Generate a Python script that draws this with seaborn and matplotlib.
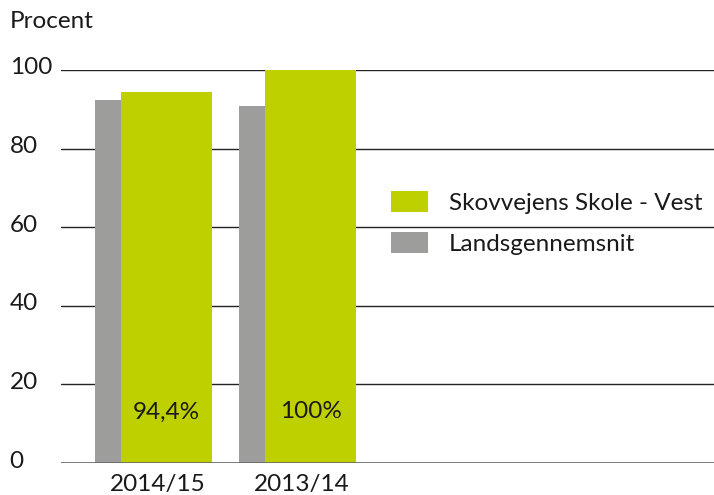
import matplotlib
matplotlib.use("Agg")
import matplotlib.pyplot as plt
import matplotlib.transforms as mtransforms
from matplotlib.patches import Patch
import pandas as pd
import seaborn as sns

# data
years = ["2014/15", "2013/14"]
school = [94.4, 100.0]
national = [92.4, 90.8]
bar_labels = ["94,4%", "100%"]
yticks = [0, 20, 40, 60, 80, 100]
school_name = "Skovvejens Skole - Vest"
national_name = "Landsgennemsnit"

green = "#bfd000"
grey = "#9d9d9c"
text_col = "#1a1a1a"
fs = 17.5

sns.set_theme(style="white")
plt.rcParams["font.family"] = ["Lato", "DejaVu Sans"]

df = pd.DataFrame({"year": years, "school": school, "national": national})

fig = plt.figure(figsize=(7.14, 4.95), dpi=100)
ax = fig.add_axes([61 / 714, 32 / 495, 1 - 61 / 714, (463 - 70) / 495])

# gridlines behind the bars
for v in yticks[1:]:
    ax.axhline(v, color="#222222", lw=1.0, zorder=0)
ax.axhline(0, color="#666666", lw=1.2, zorder=3)

bw = 0.632
# national average, shifted left so it peeks out behind the school bar
sns.barplot(data=df, x="year", y="national", color=grey, width=bw,
            saturation=1, ax=ax, zorder=1)
for p in ax.patches:
    p.set_x(p.get_x() - 0.18)
    p.set_linewidth(0)
n_grey = len(ax.patches)
sns.barplot(data=df, x="year", y="school", color=green, width=bw,
            saturation=1, ax=ax, zorder=2)
for p in ax.patches[n_grey:]:
    p.set_linewidth(0)

for i, lab in enumerate(bar_labels):
    ax.text(i, 13, lab, ha="center", va="center", fontsize=fs,
            color=text_col, zorder=4)

ax.set_xlim(-0.733, 3.80)
ax.set_ylim(0, 100)
ax.set_yticks(yticks)
ax.set_xlabel("")
ax.set_ylabel("")
sns.despine(ax=ax, left=True, bottom=True)
ax.tick_params(axis="both", length=0, labelsize=fs, labelcolor=text_col)
ax.tick_params(axis="y", pad=37)
for lab in ax.get_yticklabels():
    lab.set_ha("left")
    lab.set_transform(lab.get_transform() + mtransforms.ScaledTranslation(0, 4 / 100, fig.dpi_scale_trans))
ax.tick_params(axis="x", pad=8)
for lab in ax.get_xticklabels():
    lab.set_transform(lab.get_transform() + mtransforms.ScaledTranslation(-9 / 100, 0, fig.dpi_scale_trans))

fig.text(10 / 714, 1 - 22 / 495, "Procent", fontsize=fs, color=text_col,
         ha="left", va="center")

handles = [Patch(facecolor=green, edgecolor="none", label=school_name),
           Patch(facecolor=grey, edgecolor="none", label=national_name)]
fig.legend(handles=handles, loc="upper left", bbox_to_anchor=(384 / 714, 1 - 184 / 495),
           frameon=False, fontsize=fs, handlelength=1.52, handleheight=0.95,
           handletextpad=0.86, labelspacing=0.75, labelcolor=text_col,
           borderpad=0.3, borderaxespad=0)

fig.savefig("out.png", dpi=100)
